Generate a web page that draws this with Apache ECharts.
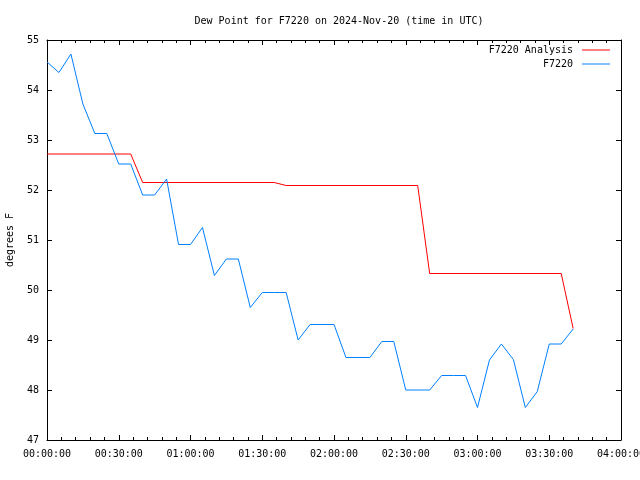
<!DOCTYPE html>
<html>
<head>
<meta charset="utf-8">
<script src="https://cdn.jsdelivr.net/npm/echarts@6/dist/echarts.min.js"></script>
<style>html,body{margin:0;padding:0;background:#fff}#c{width:640px;height:480px}</style>
</head>
<body>
<div id="c"></div>
<script>
// minutes after 00:00 UTC
var analysisMinutes = [0, 35, 40, 95, 100, 155, 160, 215, 220];
var analysisValues  = [52.72, 52.72, 52.15, 52.15, 52.09, 52.09, 50.33, 50.33, 49.23];

var obsMinutes = [0,5,10,15,20,25,30,35,40,45,50,55,60,65,70,75,80,85,90,95,100,105,110,115,120,125,130,135,140,145,150,155,160,165,170,175,180,185,190,195,200,205,210,215,220];
var obsValues  = [54.56,54.35,54.72,53.72,53.13,53.13,52.52,52.52,51.9,51.9,52.22,50.91,50.91,51.25,50.29,50.62,50.62,49.65,49.95,49.95,49.95,49.0,49.31,49.31,49.31,48.65,48.65,48.65,48.97,48.97,48.0,48.0,48.0,48.29,48.29,48.29,47.65,48.6,48.92,48.61,47.65,47.97,48.92,48.92,49.22];

var seriesNames = ['F7220 Analysis', 'F7220'];
var titleText = 'Dew Point for F7220 on 2024-Nov-20 (time in UTC)';
var yName = 'degrees F';

function zip(a, b) { return a.map(function (v, i) { return [v, b[i]]; }); }
function fmt(m) {
  var h = Math.floor(m / 60), mm = Math.round(m % 60);
  return (h < 10 ? '0' : '') + h + ':' + (mm < 10 ? '0' : '') + mm + ':00';
}

var FONT = 'DejaVu Sans Mono';
var chart = echarts.init(document.getElementById('c'), null, {renderer: 'canvas'});
var axisLine = {show: true, onZero: false, lineStyle: {color: '#000', width: 1}};
var tick = {show: true, inside: true, length: 5, lineStyle: {color: '#000'}};
var minor = {show: true, splitNumber: 5, length: 3, lineStyle: {color: '#000'}};
var lineIcon = 'path://M0 0H28V1H0Z';

chart.setOption({
  animation: false,
  backgroundColor: '#fff',
  textStyle: {fontFamily: FONT},
  title: {
    text: titleText, left: 334, top: 11, textAlign: 'center',
    textStyle: {fontFamily: FONT, fontSize: 10, fontWeight: 'normal', color: '#000'}
  },
  legend: {
    orient: 'vertical', right: 30, top: 45, align: 'right', padding: 0,
    itemWidth: 28, itemHeight: 2, itemGap: 4,
    textStyle: {fontFamily: FONT, fontSize: 10, color: '#000', padding: [0, 4, 0, 0]},
    data: [{name: seriesNames[0], icon: lineIcon}, {name: seriesNames[1], icon: lineIcon}]
  },
  grid: {left: 47, right: 19, top: 40, bottom: 40, containLabel: false, outerBoundsMode: 'none'},
  xAxis: [{
    type: 'value', position: 'bottom', min: 0, max: 240, interval: 30,
    axisLine: axisLine, axisTick: tick, minorTick: minor,
    splitLine: {show: false},
    axisLabel: {formatter: fmt, fontFamily: FONT, fontSize: 10, color: '#000', margin: 9, showMaxLabel: true, showMinLabel: true}
  }, {
    type: 'value', position: 'top', min: 0, max: 240, interval: 30,
    axisLine: axisLine, axisTick: tick, minorTick: minor,
    splitLine: {show: false}, axisLabel: {show: false}
  }],
  yAxis: [{
    type: 'value', position: 'left', min: 47, max: 55, interval: 1,
    name: yName, nameLocation: 'middle', nameGap: 32, nameRotate: 90,
    nameTextStyle: {fontFamily: FONT, fontSize: 10, color: '#000'},
    axisLine: axisLine, axisTick: tick, splitLine: {show: false},
    axisLabel: {fontFamily: FONT, fontSize: 10, color: '#000', margin: 8}
  }, {
    type: 'value', position: 'right', min: 47, max: 55, interval: 1,
    axisLine: axisLine, axisTick: tick, splitLine: {show: false},
    axisLabel: {show: false}
  }],
  series: [{
    name: seriesNames[0], type: 'line', xAxisIndex: 0, yAxisIndex: 0,
    data: zip(analysisMinutes, analysisValues), symbol: 'none',
    lineStyle: {color: '#ff0000', width: 1}, itemStyle: {color: '#ff0000'}
  }, {
    name: seriesNames[1], type: 'line', xAxisIndex: 0, yAxisIndex: 0,
    data: zip(obsMinutes, obsValues), symbol: 'none',
    lineStyle: {color: '#0080ff', width: 1}, itemStyle: {color: '#0080ff'}
  }]
});
</script>
</body>
</html>
